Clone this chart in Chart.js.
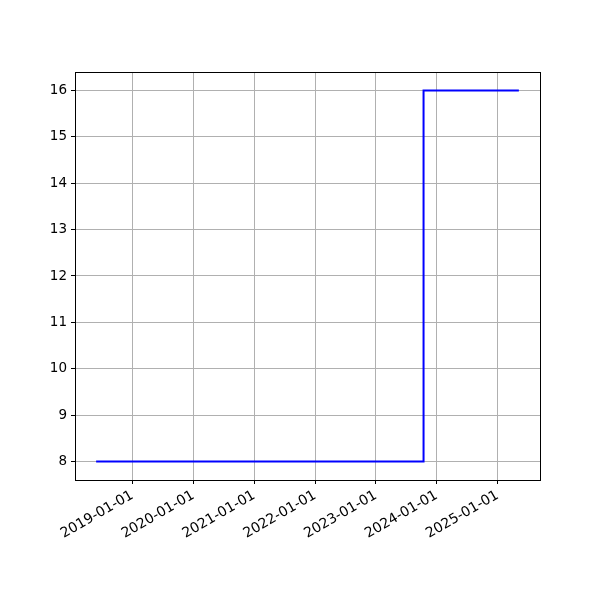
<!DOCTYPE html>
<html>
<head>
<meta charset="utf-8">
<script src="https://cdn.jsdelivr.net/npm/chart.js@4/dist/chart.umd.min.js"></script>
<style>
  html, body { margin: 0; padding: 0; background: #ffffff; }
  #wrap { width: 600px; height: 600px; }
</style>
</head>
<body>
<div id="wrap"><canvas id="c" width="600" height="600"></canvas></div>
<script>
// Data
const dates = ['2018-05-28', '2023-10-14', '2025-05-08'];
const values = [8, 16, 16];
const xTickLabels = ['2019-01-01', '2020-01-01', '2021-01-01', '2022-01-01', '2023-01-01', '2024-01-01', '2025-01-01'];
const yTickValues = [8, 9, 10, 11, 12, 13, 14, 15, 16];

const DAY = 86400000;
const toDays = s => Date.parse(s + 'T00:00:00Z') / DAY;
const xs = dates.map(toDays);
const xTicks = xTickLabels.map(toDays);

const xMinD = Math.min(...xs), xMaxD = Math.max(...xs);
const xPad = (xMaxD - xMinD) * 0.05;
const yMinD = Math.min(...values), yMaxD = Math.max(...values);
const yPad = (yMaxD - yMinD) * 0.05;

const frame = {
  id: 'frame',
  afterDraw(chart) {
    const a = chart.chartArea, ctx = chart.ctx;
    ctx.save();
    ctx.strokeStyle = '#000000';
    ctx.lineWidth = 1;
    ctx.strokeRect(Math.round(a.left) + 0.5, Math.round(a.top) + 0.5,
                   Math.round(a.right - a.left), Math.round(a.bottom - a.top));
    ctx.restore();
  }
};

new Chart(document.getElementById('c'), {
  type: 'line',
  data: {
    datasets: [{
      data: xs.map((x, i) => ({ x, y: values[i] })),
      borderColor: '#0000ff',
      borderWidth: 2,
      pointRadius: 0,
      fill: false,
      stepped: 'before',
      tension: 0
    }]
  },
  options: {
    responsive: false,
    animation: false,
    devicePixelRatio: 1,
    layout: { padding: { top: 72, right: 60, left: 0, bottom: 0 } },
    plugins: { legend: { display: false }, tooltip: { enabled: false } },
    scales: {
      x: {
        type: 'linear',
        min: xMinD - xPad,
        max: xMaxD + xPad,
        afterBuildTicks(axis) { axis.ticks = xTicks.map(v => ({ value: v })); },
        afterFit(axis) { axis.height = 120; },
        ticks: {
          autoSkip: false,
          minRotation: 30,
          maxRotation: 30,
          color: '#000000',
          font: { family: 'DejaVu Sans', size: 14 },
          padding: 3,
          callback: (v) => {
            const i = xTicks.indexOf(v);
            return i >= 0 ? xTickLabels[i] : '';
          }
        },
        grid: { color: '#b0b0b0', lineWidth: 1, drawTicks: true, tickLength: 4, tickColor: '#000000' },
        border: { display: false }
      },
      y: {
        type: 'linear',
        min: yMinD - yPad,
        max: yMaxD + yPad,
        afterBuildTicks(axis) { axis.ticks = yTickValues.map(v => ({ value: v })); },
        afterFit(axis) { axis.width = 75; },
        ticks: {
          color: '#000000',
          font: { family: 'DejaVu Sans', size: 13.5 },
          padding: 4,
          callback: v => String(v)
        },
        grid: { color: '#b0b0b0', lineWidth: 1, drawTicks: true, tickLength: 4, tickColor: '#000000' },
        border: { display: false }
      }
    }
  },
  plugins: [frame]
});
</script>
</body>
</html>
